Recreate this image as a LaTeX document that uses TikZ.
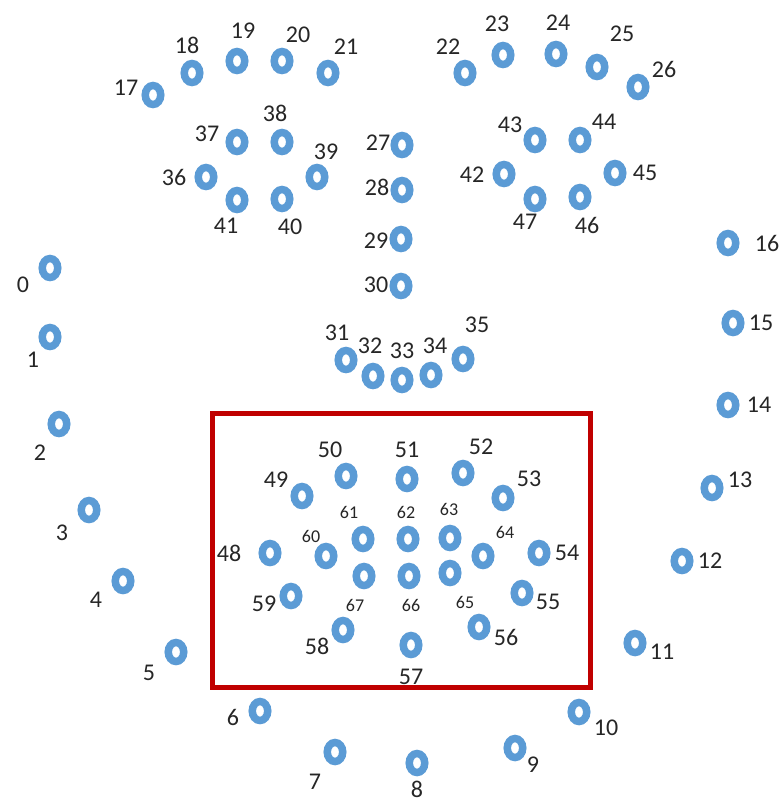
\documentclass[tikz,border=0pt]{standalone}
\usepackage{fontspec}
\setmainfont{Carlito}
\definecolor{ringblue}{HTML}{5B9BD5}
\definecolor{boxred}{HTML}{C00000}
\tikzset{
  ring/.style={draw=ringblue, line width=7.5pt, ellipse, minimum width=15.5pt, minimum height=19pt, inner sep=0pt},
  lab/.style={font=\fontsize{24}{24}\selectfont, text=black!85, inner sep=0pt},
  slab/.style={font=\fontsize{18}{18}\selectfont, text=black!85, inner sep=0pt},
  mouthbox/.style={draw=boxred, line width=5pt}
}
\usetikzlibrary{shapes.geometric}
\begin{document}
\begin{tikzpicture}[x=1pt,y=-1pt]
\useasboundingbox (0,0) rectangle (780,804);
% mouth box
\draw[mouthbox] (212,413) rectangle (590,687);
% landmarks with big labels
\foreach \i/\x/\y/\lx/\ly in {
0/50/268/23/285, 1/50/337/33/360, 2/59/424/40/453, 3/89/510/62/533,
4/123/581/96/600, 5/176/652/149/673, 6/260/711/233/717, 7/335/752/315/782,
8/417/763/417/789, 9/515/748/533/765, 10/579/712/606/728, 11/635/643/662/652,
12/682/561/710/561, 13/712/488/740/480, 14/728/405/759/405, 15/733/323/761/323,
16/728/243/767/243,
17/153/95/126/88, 18/192/73/187/45, 19/237/61/243/31, 20/282/61/298/35,
21/328/73/346/47,
22/465/73/448/47, 23/503/55/497/24, 24/556/54/558/23, 25/597/67/622/34,
26/638/87/664/69,
27/402/145/378/143, 28/402/190/377/187, 29/401/239/376/241, 30/401/286/376/285,
31/346/360/337/333, 32/373/376/370/346, 33/402/380/402/351, 34/431/375/435/346,
35/463/359/477/325,
36/206/177/174/177, 37/237/142/207/134, 38/282/142/275/113, 39/317/177/326/152,
40/282/199/290/227, 41/237/200/226/226,
42/504/174/472/175, 43/535/140/510/125, 44/580/140/604/122, 45/615/173/645/173,
46/580/197/587/225, 47/535/199/525/222,
48/270/553/229/553, 49/302/496/276/480, 50/346/476/330/450, 51/407/479/407/450,
52/463/473/481/447, 53/503/498/529/479, 54/539/553/567/553, 55/522/593/548/602,
56/479/627/506/637, 57/411/645/411/677, 58/343/630/317/646, 59/291/596/264/604}{
  \node[ring] (p\i) at (\x,\y) {};
  \node[lab] (l\i) at (\lx,\ly) {\i};
}
% inner lip landmarks with small labels
\foreach \i/\x/\y/\lx/\ly in {
60/326/556/311/536, 61/363/539/349/512, 62/408/539/406/512, 63/450/538/449/509,
64/483/556/505/532, 65/450/573/465/602, 66/409/576/411/605, 67/364/576/355/605}{
  \node[ring] (p\i) at (\x,\y) {};
  \node[slab] (l\i) at (\lx,\ly) {\i};
}
\end{tikzpicture}
\end{document}
